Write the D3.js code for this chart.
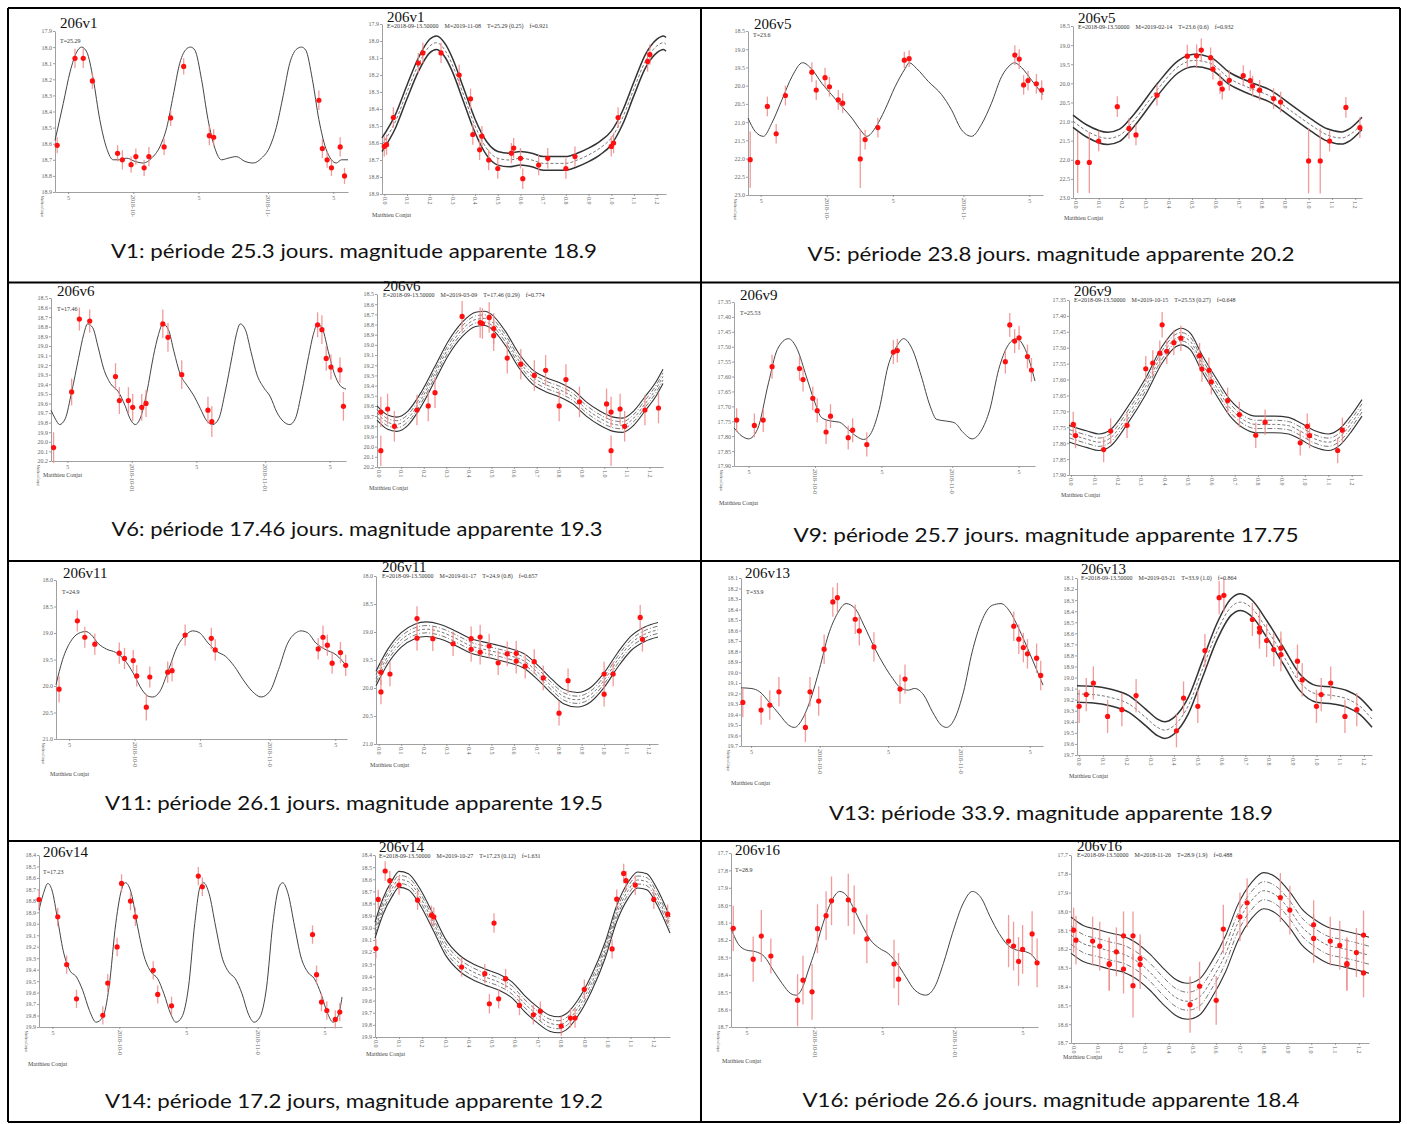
<!DOCTYPE html>
<html>
<head>
<meta charset="utf-8">
<script src="https://cdn.jsdelivr.net/npm/d3@7"></script>
<style>
  body { margin: 0; background: #fff; }
  svg text { white-space: pre; }
</style>
</head>
<body>
<script>
// ---------------------------------------------------------------------------
// Data: light curves of 8 variable stars (field 206)
// time curves: [day since 2018-10-01, magnitude]; points: [x, mag, error]
// phase curves: [phase, magnitude]; bands: magnitude offsets of the fit lines
// ---------------------------------------------------------------------------

const stars = ['206v1', '206v5', '206v6', '206v9', '206v11', '206v13', '206v14', '206v16'];
const periodLabels = ['T=25.29', 'T=23.6', 'T=17.46', 'T=25.53', 'T=24.9', 'T=33.9', 'T=17.23', 'T=28.9'];
const headers = [
  'E=2018-09-13.50000    M=2019-11-08    T=25.29 (0.25)    f=0.921',
  'E=2018-09-13.50000    M=2019-02-14    T=23.6 (0.6)    f=0.932',
  'E=2018-09-13.50000    M=2019-03-09    T=17.46 (0.29)    f=0.774',
  'E=2018-09-13.50000    M=2019-10-15    T=25.53 (0.27)    f=0.648',
  'E=2018-09-13.50000    M=2019-01-17    T=24.9 (0.8)    f=0.657',
  'E=2018-09-13.50000    M=2019-03-21    T=33.9 (1.0)    f=0.864',
  'E=2018-09-13.50000    M=2019-10-27    T=17.23 (0.12)    f=1.631',
  'E=2018-09-13.50000    M=2018-11-26    T=28.9 (1.9)    f=0.488'
];
const captions = [
  'V1: période 25.3 jours. magnitude apparente 18.9',
  'V5: période 23.8 jours. magnitude apparente 20.2',
  'V6: période 17.46 jours. magnitude apparente 19.3',
  'V9: période 25.7 jours. magnitude apparente 17.75',
  'V11: période 26.1 jours. magnitude apparente 19.5',
  'V13: période 33.9. magnitude apparente 18.9',
  'V14: période 17.2 jours, magnitude apparente 19.2',
  'V16: période 26.6 jours. magnitude apparente 18.4'
];
const credit = 'Matthieu Conjat';

// y axis: [top magnitude, bottom magnitude, step, decimals]
const magTicks = [
  [17.9, 18.9, 0.1, 1], [18.5, 23.0, 0.5, 1], [18.5, 20.2, 0.1, 1], [17.35, 17.90, 0.05, 2],
  [18.0, 21.0, 0.5, 1], [18.1, 19.7, 0.1, 1], [18.4, 19.9, 0.1, 1], [17.7, 18.7, 0.1, 1]
];
const dateTickDays = [-15, 0, 15, 31, 46];
const dateLabels = [
  ['5', '2018-10-', '5', '2018-11-', '5'], ['5', '2018-10-', '5', '2018-11-', '5'],
  ['5', '2018-10-01', '5', '2018-11-01', '5'], ['5', '2018-10-0', '5', '2018-11-0', '5'],
  ['5', '2018-10-0', '5', '2018-11-0', '5'], ['5', '2018-10-0', '5', '2018-11-0', '5'],
  ['5', '2018-10-0', '5', '2018-11-0', '5'], ['5', '2018-10-01', '5', '2018-11-01', '5']
];
const phaseTicks = [0, 0.1, 0.2, 0.3, 0.4, 0.5, 0.6, 0.7, 0.8, 0.9, 1.0, 1.1, 1.2];
const timeDomains = [[-18.0, 49.4], [-17.9, 49.1], [-18.8, 49.8], [-18.3, 49.7],
                     [-18.0, 48.7], [-17.2, 48.9], [-18.0, 49.9], [-18.4, 49.4]];
const phaseDomains = [[-0.01, 1.241], [-0.01, 1.229], [-0.007, 1.26], [-0.008, 1.244],
                      [-0.012, 1.239], [-0.009, 1.234], [-0.004, 1.27], [-0.011, 1.243]];

// --- V1 ---
const v1TimeCurve = [[-18.0,18.58],[-16.1,18.35],[-14.5,18.15],[-13.0,18.03],[-11.9,18.00],[-10.7,18.03],[-9.2,18.20],[-7.7,18.45],[-6.1,18.63],[-4.6,18.70],[-3.1,18.70],[-1.5,18.69],[0.4,18.71],[2.3,18.72],[4.2,18.69],[6.1,18.62],[7.7,18.50],[9.2,18.30],[10.7,18.10],[12.3,18.01],[13.2,18.00],[14.2,18.02],[15.7,18.20],[17.2,18.45],[18.8,18.63],[20.3,18.70],[21.8,18.69],[23.7,18.68],[25.7,18.71],[27.6,18.72],[29.5,18.69],[31.4,18.62],[32.9,18.50],[34.5,18.30],[36.0,18.10],[37.7,18.01],[38.7,18.00],[39.7,18.02],[41.2,18.20],[42.7,18.45],[44.3,18.63],[45.6,18.70],[46.7,18.72],[47.9,18.70],[49.4,18.70]];
const v1TimePts = [[-17.5,18.61,0.05],[-13.4,18.07,0.06],[-11.5,18.07,0.06],[-9.4,18.21,0.05],[-3.6,18.66,0.05],[-2.5,18.70,0.06],[-0.5,18.73,0.05],[0.6,18.68,0.05],[2.5,18.75,0.05],[3.6,18.68,0.06],[7.1,18.62,0.05],[8.6,18.44,0.05],[11.6,18.12,0.05],[17.5,18.55,0.06],[18.5,18.56,0.05],[42.7,18.33,0.06],[43.5,18.63,0.06],[44.6,18.70,0.05],[45.6,18.75,0.05],[47.6,18.62,0.06],[48.6,18.80,0.05]];
const v1PhaseCurve = [[-0.01,18.61],[0.05,18.47],[0.1,18.30],[0.15,18.14],[0.2,18.03],[0.23,18.01],[0.27,18.06],[0.3,18.14],[0.35,18.32],[0.4,18.50],[0.45,18.63],[0.5,18.69],[0.55,18.70],[0.6,18.69],[0.65,18.70],[0.7,18.72],[0.8,18.72],[0.85,18.70],[0.9,18.67],[0.95,18.63],[1.0,18.57],[1.05,18.45],[1.1,18.28],[1.15,18.12],[1.2,18.03],[1.23,18.01],[1.241,18.02]];
const v1PhasePts = [[0.0,18.62,0.06],[0.01,18.61,0.06],[0.04,18.45,0.06],[0.15,18.13,0.06],[0.17,18.07,0.06],[0.25,18.07,0.06],[0.33,18.20,0.06],[0.38,18.34,0.06],[0.39,18.55,0.06],[0.42,18.64,0.06],[0.43,18.56,0.06],[0.46,18.70,0.06],[0.50,18.75,0.06],[0.56,18.66,0.06],[0.57,18.63,0.06],[0.60,18.69,0.06],[0.61,18.81,0.06],[0.68,18.73,0.06],[0.72,18.69,0.06],[0.80,18.75,0.06],[0.84,18.68,0.06],[1.00,18.62,0.06],[1.01,18.60,0.06],[1.03,18.45,0.06],[1.16,18.12,0.06],[1.17,18.08,0.06]];
const v1Band = [-0.04, 0, 0.04];

// --- V5 ---
const v5TimeCurve = [[-17.9,20.89],[-16.3,21.25],[-14.4,21.39],[-12.5,21.03],[-10.2,20.39],[-7.9,19.75],[-5.5,19.37],[-3.4,19.55],[-1.1,19.94],[1.1,20.25],[3.4,20.57],[5.7,20.89],[7.6,21.21],[9.1,21.39],[11.0,21.16],[13.2,20.66],[15.5,20.03],[17.8,19.53],[18.7,19.37],[20.4,19.53],[23.1,19.89],[26.1,20.25],[28.3,20.66],[30.6,21.21],[32.9,21.39],[35.1,21.07],[37.4,20.48],[39.7,19.75],[41.6,19.44],[42.6,19.37],[44.2,19.50],[46.5,19.85],[49.1,20.25]];
const v5TimePts = [[-17.4,22.03,0.77],[-13.5,20.57,0.27],[-11.5,21.32,0.27],[-9.4,20.27,0.27],[-3.4,19.63,0.27],[-2.4,20.12,0.27],[-0.4,19.78,0.27],[0.6,20.03,0.27],[2.6,20.39,0.27],[3.6,20.48,0.27],[7.6,22.01,0.8],[8.7,21.48,0.27],[11.6,21.15,0.27],[17.6,19.30,0.23],[18.7,19.26,0.23],[42.7,19.16,0.27],[43.7,19.27,0.27],[44.7,19.98,0.27],[45.7,19.86,0.27],[47.6,19.95,0.27],[48.8,20.12,0.27]];
const v5PhaseCurve = [[-0.01,20.99],[0.05,21.25],[0.14,21.44],[0.19,21.36],[0.25,20.98],[0.35,20.18],[0.44,19.57],[0.51,19.40],[0.58,19.48],[0.66,19.87],[0.75,20.13],[0.84,20.35],[0.92,20.70],[1.01,21.09],[1.08,21.35],[1.14,21.43],[1.18,21.33],[1.229,21.05]];
const v5PhasePts = [[0.01,22.07,0.8],[0.06,22.07,0.8],[0.10,21.51,0.27],[0.18,20.61,0.27],[0.23,21.18,0.27],[0.26,21.35,0.27],[0.35,20.31,0.27],[0.48,19.29,0.3],[0.52,19.28,0.3],[0.54,19.13,0.3],[0.58,19.33,0.27],[0.59,19.63,0.27],[0.62,20.0,0.27],[0.63,20.15,0.27],[0.66,19.92,0.27],[0.72,19.80,0.27],[0.75,19.93,0.27],[0.76,20.07,0.27],[0.79,20.18,0.27],[0.85,20.40,0.27],[0.88,20.49,0.27],[1.00,22.03,0.85],[1.05,22.03,0.85],[1.09,21.51,0.27],[1.16,20.63,0.27],[1.22,21.16,0.27]];
const v5Band = [-0.16, 0, 0.16];

// --- V6 ---
const v6TimeCurve = [[-18.8,19.67],[-17.8,19.76],[-16.8,19.82],[-15.5,19.76],[-14.0,19.48],[-12.4,19.13],[-11.2,18.88],[-10.3,18.77],[-9.1,18.81],[-7.8,19.02],[-6.6,19.23],[-5.0,19.39],[-3.1,19.48],[-1.6,19.62],[-0.4,19.76],[0.8,19.82],[1.9,19.76],[3.5,19.48],[5.0,19.11],[6.2,18.88],[7.2,18.77],[8.5,18.83],[9.8,19.06],[11.2,19.29],[12.8,19.41],[14.3,19.51],[15.9,19.65],[17.4,19.78],[18.8,19.82],[20.2,19.76],[21.7,19.48],[23.3,19.11],[24.3,18.88],[25.2,18.77],[26.4,18.83],[27.7,19.06],[29.1,19.30],[30.6,19.43],[32.2,19.53],[33.7,19.69],[35.3,19.79],[36.7,19.82],[38.0,19.76],[39.5,19.48],[41.1,19.11],[42.2,18.88],[43.2,18.77],[44.4,18.83],[45.7,19.06],[47.1,19.29],[48.4,19.41],[49.8,19.45]];
const v6TimePts = [[-18.2,20.06,0.16],[-14.0,19.48,0.14],[-12.2,18.72,0.12],[-9.8,18.74,0.12],[-3.8,19.32,0.14],[-2.9,19.57,0.14],[-0.8,19.57,0.14],[0.2,19.64,0.14],[2.3,19.64,0.14],[3.3,19.60,0.14],[7.2,18.77,0.15],[8.4,18.91,0.15],[11.6,19.30,0.15],[17.7,19.67,0.14],[18.6,19.79,0.16],[43.2,18.78,0.13],[44.2,18.83,0.15],[45.2,19.13,0.13],[46.3,19.22,0.13],[48.4,19.25,0.13],[49.2,19.63,0.15]];
const v6PhaseCurve = [[-0.007,19.67],[0.04,19.76],[0.08,19.78],[0.13,19.72],[0.19,19.53],[0.25,19.28],[0.31,19.03],[0.37,18.85],[0.43,18.75],[0.47,18.74],[0.50,18.77],[0.56,18.93],[0.62,19.15],[0.68,19.31],[0.74,19.39],[0.80,19.44],[0.86,19.51],[0.92,19.63],[0.98,19.72],[1.04,19.78],[1.08,19.79],[1.13,19.72],[1.18,19.58],[1.23,19.43],[1.26,19.31]];
const v6PhasePts = [[0.01,19.66,0.15],[0.01,20.04,0.15],[0.04,19.63,0.15],[0.07,19.80,0.15],[0.17,19.64,0.15],[0.22,19.60,0.15],[0.25,19.47,0.15],[0.37,18.72,0.15],[0.45,18.78,0.15],[0.46,18.79,0.15],[0.49,18.73,0.15],[0.51,18.91,0.15],[0.51,18.84,0.15],[0.57,19.13,0.15],[0.63,19.19,0.15],[0.69,19.30,0.15],[0.74,19.25,0.15],[0.80,19.60,0.15],[0.83,19.34,0.15],[0.89,19.56,0.15],[1.01,19.58,0.15],[1.03,19.66,0.15],[1.03,20.04,0.15],[1.07,19.63,0.15],[1.09,19.80,0.15],[1.18,19.64,0.15],[1.24,19.62,0.15]];
const v6Band = [-0.07, -0.035, 0, 0.035, 0.07];

// --- V9 ---
const v9TimeCurve = [[-18.3,17.772],[-16.5,17.800],[-15.0,17.809],[-13.0,17.777],[-10.5,17.621],[-8.5,17.509],[-6.0,17.473],[-4.0,17.509],[-2.0,17.598],[0,17.688],[1.5,17.738],[3.5,17.749],[5.5,17.753],[7.5,17.777],[9.5,17.802],[11.0,17.811],[12.5,17.794],[14.5,17.710],[16.5,17.565],[18.5,17.498],[20.0,17.473],[22.0,17.509],[24.0,17.598],[26.0,17.699],[27.5,17.744],[29.5,17.749],[31.5,17.755],[33.5,17.788],[35.5,17.809],[37.5,17.783],[39.5,17.710],[41.5,17.576],[43.5,17.498],[45.5,17.473],[47.5,17.509],[49.7,17.615]];
const v9TimePts = [[-17.7,17.746,0.04],[-13.7,17.764,0.04],[-11.7,17.746,0.04],[-9.7,17.567,0.04],[-3.5,17.573,0.04],[-2.7,17.610,0.04],[-0.5,17.673,0.04],[0.5,17.714,0.04],[2.5,17.786,0.04],[3.5,17.733,0.04],[7.5,17.805,0.04],[8.5,17.780,0.04],[11.7,17.828,0.04],[17.7,17.518,0.04],[18.6,17.513,0.04],[43.0,17.550,0.04],[44.0,17.427,0.04],[45.1,17.481,0.04],[46.1,17.470,0.04],[48.0,17.533,0.04],[48.9,17.578,0.04]];
const v9PhaseCurve = [[-0.008,17.770],[0.07,17.788],[0.12,17.797],[0.17,17.783],[0.24,17.715],[0.32,17.621],[0.39,17.522],[0.45,17.470],[0.47,17.465],[0.51,17.480],[0.56,17.548],[0.62,17.621],[0.68,17.689],[0.74,17.728],[0.79,17.741],[0.87,17.741],[0.93,17.745],[0.98,17.762],[1.04,17.786],[1.10,17.797],[1.15,17.780],[1.20,17.736],[1.244,17.689]];
const v9PhasePts = [[0.01,17.741,0.04],[0.02,17.776,0.04],[0.14,17.820,0.04],[0.17,17.762,0.04],[0.24,17.744,0.04],[0.32,17.566,0.04],[0.35,17.548,0.04],[0.38,17.517,0.04],[0.39,17.428,0.04],[0.41,17.511,0.04],[0.44,17.484,0.04],[0.47,17.470,0.04],[0.55,17.525,0.04],[0.56,17.567,0.04],[0.59,17.571,0.04],[0.60,17.607,0.04],[0.67,17.666,0.04],[0.72,17.710,0.04],[0.79,17.775,0.04],[0.83,17.734,0.04],[0.98,17.799,0.04],[1.01,17.747,0.04],[1.02,17.776,0.04],[1.14,17.823,0.04],[1.16,17.759,0.04]];
const v9Band = [-0.026, -0.013, 0, 0.013, 0.026];

// --- V11 ---
const v11TimeCurve = [[-18.0,19.976],[-16.5,19.506],[-14.4,19.129],[-12.4,18.991],[-11.2,18.972],[-9.9,19.035],[-8.4,19.192],[-6.4,19.305],[-4.3,19.368],[-2.3,19.506],[-0.3,19.757],[1.7,20.070],[3.2,20.196],[4.2,20.208],[5.8,20.102],[7.8,19.694],[9.8,19.255],[11.8,19.035],[13.3,18.960],[14.8,18.991],[16.9,19.192],[18.9,19.349],[20.9,19.443],[22.9,19.631],[24.9,19.882],[27.0,20.102],[29.0,20.208],[31.0,20.102],[33.0,19.694],[35.1,19.192],[37.1,18.991],[38.1,18.960],[39.6,18.991],[41.6,19.192],[43.6,19.305],[46.2,19.412],[48.7,19.631]];
const v11TimePts = [[-17.3,20.06,0.25],[-13.1,18.77,0.2],[-11.4,19.08,0.2],[-9.1,19.21,0.2],[-3.5,19.38,0.2],[-2.3,19.48,0.2],[-0.3,19.52,0.2],[0.5,19.81,0.2],[2.7,20.40,0.25],[3.5,19.83,0.2],[7.6,19.74,0.2],[8.6,19.71,0.2],[11.6,19.04,0.2],[17.6,19.10,0.2],[18.5,19.32,0.2],[42.1,19.30,0.2],[43.2,19.08,0.22],[44.2,19.23,0.2],[45.3,19.57,0.2],[47.2,19.37,0.2],[48.4,19.61,0.2]];
const v11PhaseCurve = [[-0.012,19.83],[0.04,19.44],[0.10,19.14],[0.16,18.99],[0.21,18.95],[0.27,18.99],[0.34,19.11],[0.41,19.25],[0.49,19.33],[0.57,19.41],[0.65,19.53],[0.71,19.74],[0.77,19.98],[0.82,20.15],[0.88,20.21],[0.94,20.12],[1.00,19.86],[1.06,19.50],[1.12,19.20],[1.18,19.04],[1.239,18.96]];
const v11PhasePts = [[0.01,19.72,0.22],[0.01,20.07,0.22],[0.05,19.75,0.22],[0.17,18.76,0.22],[0.17,19.11,0.22],[0.24,19.12,0.22],[0.33,19.21,0.22],[0.41,19.12,0.22],[0.41,19.31,0.22],[0.45,19.09,0.22],[0.45,19.36,0.22],[0.49,19.25,0.22],[0.53,19.55,0.22],[0.57,19.39,0.22],[0.61,19.38,0.22],[0.61,19.52,0.22],[0.65,19.61,0.22],[0.69,19.53,0.22],[0.73,19.82,0.22],[0.80,20.45,0.22],[0.84,19.87,0.22],[1.00,19.75,0.22],[1.00,20.11,0.22],[1.04,19.75,0.22],[1.16,18.74,0.22],[1.17,19.13,0.22]];
const v11Band = [-0.13, -0.065, 0, 0.065, 0.13];

// --- V13 ---
const v13TimeCurve = [[-17.2,19.146],[-15.0,19.152],[-13.1,19.184],[-11.1,19.279],[-8.7,19.405],[-6.8,19.500],[-5.5,19.523],[-3.9,19.453],[-1.9,19.247],[0,18.962],[1.9,18.645],[3.9,18.439],[5.8,18.344],[7.8,18.392],[9.7,18.550],[12.1,18.772],[14.1,18.930],[16.0,19.057],[17.7,19.146],[19.4,19.168],[20.8,19.152],[22.8,19.215],[24.7,19.374],[26.6,19.500],[27.8,19.523],[29.6,19.437],[31.5,19.184],[33.4,18.803],[35.4,18.518],[37.8,18.360],[39.7,18.344],[41.7,18.423],[43.6,18.582],[46.0,18.819],[48.9,19.120]];
const v13TimePts = [[-16.8,19.285,0.14],[-12.8,19.358,0.14],[-10.9,19.310,0.14],[-8.9,19.184,0.14],[-3.1,19.523,0.14],[-2.1,19.184,0.14],[-0.2,19.272,0.14],[1.0,18.778,0.14],[2.9,18.328,0.14],[3.9,18.287,0.14],[7.8,18.493,0.14],[8.7,18.604,0.14],[11.9,18.756,0.14],[17.6,19.158,0.14],[18.7,19.063,0.14],[42.5,18.559,0.14],[43.6,18.683,0.14],[44.6,18.762,0.14],[45.5,18.822,0.14],[47.5,18.864,0.14],[48.4,19.028,0.14]];
const v13PhaseCurve = [[-0.009,19.148],[0.06,19.154],[0.13,19.179],[0.21,19.239],[0.28,19.360],[0.33,19.450],[0.36,19.475],[0.40,19.435],[0.46,19.254],[0.52,18.922],[0.58,18.589],[0.64,18.363],[0.68,18.318],[0.73,18.378],[0.79,18.559],[0.86,18.801],[0.93,19.043],[1.00,19.148],[1.07,19.163],[1.13,19.194],[1.18,19.254],[1.234,19.375]];
const v13PhasePts = [[0.0,19.260,0.15],[0.03,19.154,0.15],[0.06,19.049,0.15],[0.12,19.351,0.15],[0.18,19.290,0.15],[0.24,19.163,0.15],[0.41,19.481,0.15],[0.44,19.185,0.15],[0.50,19.260,0.15],[0.53,18.756,0.15],[0.59,18.278,0.15],[0.61,18.257,0.15],[0.73,18.475,0.15],[0.76,18.550,0.15],[0.76,18.589,0.15],[0.79,18.665,0.15],[0.82,18.747,0.15],[0.85,18.734,0.15],[0.85,18.792,0.15],[0.92,18.852,0.15],[0.94,19.021,0.15],[1.00,19.260,0.15],[1.02,19.154,0.15],[1.06,19.049,0.15],[1.12,19.351,0.15],[1.17,19.290,0.15]];
const v13Band = [-0.075, 0, 0.075];

// --- V14 ---
const v14TimeCurve = [[-18.0,18.881],[-17.0,18.735],[-16.0,18.648],[-15.1,18.706],[-13.8,18.969],[-12.6,19.231],[-11.1,19.406],[-9.6,19.464],[-8.2,19.581],[-6.7,19.756],[-5.2,19.858],[-3.7,19.814],[-2.3,19.552],[-0.8,18.998],[0.7,18.677],[1.4,18.642],[2.7,18.735],[4.1,19.027],[5.6,19.289],[7.1,19.420],[8.6,19.479],[10.0,19.610],[11.5,19.785],[12.7,19.858],[14.0,19.814],[15.5,19.552],[16.9,18.998],[18.1,18.677],[18.9,18.642],[20.1,18.735],[21.6,19.027],[23.0,19.289],[24.5,19.420],[26.0,19.479],[27.5,19.610],[28.9,19.785],[30.2,19.858],[31.5,19.814],[33.0,19.552],[34.4,18.998],[35.8,18.677],[36.6,18.642],[37.8,18.735],[39.3,19.027],[40.7,19.289],[42.2,19.420],[43.7,19.479],[45.2,19.610],[46.7,19.785],[47.9,19.858],[49.2,19.785],[49.9,19.639]];
const v14TimePts = [[-18.0,18.788,0.08],[-13.8,18.939,0.08],[-11.8,19.356,0.08],[-9.6,19.654,0.08],[-3.7,19.799,0.08],[-2.6,19.517,0.08],[-0.5,19.202,0.08],[0.5,18.648,0.08],[2.5,18.802,0.08],[3.6,18.939,0.08],[7.6,19.406,0.08],[8.6,19.616,0.08],[11.7,19.715,0.08],[17.7,18.584,0.08],[18.6,18.677,0.08],[43.3,19.094,0.08],[44.2,19.444,0.08],[45.3,19.683,0.08],[46.5,19.756,0.08],[48.4,19.834,0.08],[49.4,19.770,0.08]];
const v14PhaseCurve = [[-0.004,19.02],[0.03,18.827],[0.07,18.675],[0.10,18.601],[0.14,18.620],[0.19,18.744],[0.25,18.965],[0.30,19.157],[0.36,19.290],[0.42,19.364],[0.47,19.405],[0.53,19.447],[0.59,19.516],[0.64,19.620],[0.70,19.722],[0.75,19.786],[0.79,19.799],[0.82,19.777],[0.87,19.667],[0.93,19.461],[0.99,19.185],[1.04,18.882],[1.09,18.689],[1.13,18.606],[1.17,18.620],[1.21,18.730],[1.27,18.978]];
const v14PhasePts = [[0.0,19.171,0.08],[0.01,18.766,0.08],[0.04,18.532,0.08],[0.06,18.612,0.08],[0.10,18.648,0.08],[0.18,18.772,0.08],[0.24,18.896,0.08],[0.25,18.910,0.08],[0.37,19.323,0.08],[0.47,19.378,0.08],[0.49,19.626,0.08],[0.51,18.961,0.08],[0.53,19.585,0.08],[0.56,19.419,0.08],[0.62,19.640,0.08],[0.68,19.717,0.08],[0.71,19.687,0.08],[0.80,19.810,0.08],[0.84,19.744,0.08],[0.86,19.744,0.08],[0.90,19.507,0.08],[1.02,19.174,0.08],[1.04,18.764,0.08],[1.07,18.552,0.08],[1.08,18.612,0.08],[1.12,18.648,0.08],[1.20,18.766,0.08],[1.26,18.888,0.08]];
const v14Band = [-0.066, -0.033, 0, 0.033, 0.066];

// --- V16 ---
const v16TimeCurve = [[-18.4,18.133],[-16.9,18.219],[-15.0,18.258],[-13.0,18.267],[-11.0,18.296],[-9.1,18.373],[-7.1,18.450],[-5.2,18.508],[-4.0,18.517],[-2.7,18.479],[-1.3,18.373],[0.2,18.258],[1.7,18.123],[3.6,17.988],[5.6,17.921],[7.0,17.940],[8.5,18.008],[10.5,18.113],[12.4,18.200],[14.4,18.248],[16.3,18.277],[18.3,18.335],[20.2,18.412],[22.2,18.488],[24.6,18.517],[26.6,18.469],[28.5,18.335],[30.5,18.162],[32.9,17.988],[34.9,17.921],[36.9,17.960],[38.8,18.065],[40.8,18.162],[42.7,18.229],[44.7,18.258],[46.6,18.267],[48.1,18.287],[49.4,18.335]];
const v16TimePts = [[-17.9,18.133,0.13],[-13.5,18.310,0.13],[-11.7,18.177,0.15],[-9.6,18.292,0.1],[-3.7,18.546,0.15],[-2.5,18.431,0.14],[-0.5,18.498,0.16],[0.7,18.135,0.14],[2.6,18.060,0.14],[3.8,17.975,0.14],[7.5,17.969,0.15],[8.8,18.027,0.14],[11.6,18.194,0.14],[17.6,18.338,0.14],[18.6,18.425,0.15],[42.9,18.206,0.15],[44.0,18.235,0.14],[45.1,18.323,0.14],[46.0,18.254,0.14],[48.1,18.165,0.13],[49.2,18.331,0.14]];
const v16PhaseCurve = [[-0.011,18.126],[0.04,18.171],[0.10,18.192],[0.15,18.210],[0.21,18.228],[0.26,18.260],[0.32,18.322],[0.38,18.402],[0.43,18.458],[0.48,18.478],[0.53,18.455],[0.58,18.366],[0.64,18.224],[0.69,18.064],[0.75,17.940],[0.80,17.890],[0.85,17.913],[0.91,17.993],[0.96,18.082],[1.02,18.144],[1.07,18.180],[1.13,18.197],[1.19,18.215],[1.243,18.233]];
const v16PhasePts = [[0.0,18.100,0.12],[0.01,18.153,0.13],[0.08,18.158,0.13],[0.11,18.185,0.13],[0.15,18.277,0.14],[0.15,18.283,0.14],[0.18,18.215,0.13],[0.21,18.130,0.13],[0.21,18.307,0.13],[0.25,18.395,0.17],[0.25,18.130,0.13],[0.28,18.251,0.13],[0.28,18.283,0.13],[0.49,18.496,0.15],[0.53,18.398,0.13],[0.60,18.473,0.13],[0.63,18.094,0.13],[0.70,18.029,0.13],[0.73,17.954,0.13],[0.87,17.926,0.13],[0.91,17.993,0.13],[1.01,18.071,0.13],[1.01,18.144,0.13],[1.08,18.158,0.13],[1.12,18.181,0.13],[1.15,18.277,0.14],[1.15,18.283,0.14],[1.19,18.219,0.13],[1.22,18.126,0.13],[1.22,18.327,0.13]];
const v16Band = [-0.096, -0.048, 0, 0.048, 0.096];

const timeCurves = [v1TimeCurve, v5TimeCurve, v6TimeCurve, v9TimeCurve, v11TimeCurve, v13TimeCurve, v14TimeCurve, v16TimeCurve];
const timePts = [v1TimePts, v5TimePts, v6TimePts, v9TimePts, v11TimePts, v13TimePts, v14TimePts, v16TimePts];
const phaseCurves = [v1PhaseCurve, v5PhaseCurve, v6PhaseCurve, v9PhaseCurve, v11PhaseCurve, v13PhaseCurve, v14PhaseCurve, v16PhaseCurve];
const phasePts = [v1PhasePts, v5PhasePts, v6PhasePts, v9PhasePts, v11PhasePts, v13PhasePts, v14PhasePts, v16PhasePts];
const bands = [v1Band, v5Band, v6Band, v9Band, v11Band, v13Band, v14Band, v16Band];

// ---------------------------------------------------------------------------
// Layout (pixels)
// ---------------------------------------------------------------------------
const W = 1407, H = 1124;
const tableX = [8, 701, 1400];
const tableY = [8, 282.5, 561, 841, 1122];

// [axis x, right x, y of top tick, y of bottom tick]
const leftBoxes = [[55,348,31,192],[748,1043,31,195],[51,346,298,461],[734,1035,302,466],
                   [56,347,580,739],[741,1043,578,746],[39,342,855,1027],[731,1038,853,1027]];
const rightBoxes = [[382,666,24,194],[1073,1362,26,198],[377,663,294,467],[1069,1362,300,475],
                    [376,658,576,744],[1077,1372,578,755],[375,670,855,1037],[1071,1369,855,1043]];
const leftTitlePos = [[60,28],[754,29],[57,296],[740,300],[63,578],[745,578],[43,857],[735,855]];
const leftTPos = [[60,43],[753,37],[57,311],[740,315],[62,594],[746,594],[43,874],[735,872]];
const rightTitlePos = [[387,22],[1078,23],[383,291],[1074,296],[382,572],[1081,574],[379,852],[1077,851]];
const leftCreditPos = [null, null, [43,477], [719,505], [50,776], [731,785], [28,1066], [722,1063]];
const rightCreditPos = [[372,217],[1064,220],[369,490],[1061,497],[370,767],[1069,778],[366,1056],[1063,1059]];
const captionPos = [[354,258],[1051,261],[357,536],[1046,542],[354,810],[1051,820],[354,1108],[1051,1107]];
const captionWidths = [486,487,491,505,498,444,498,497];

const bandStyles = {
  3: [['solid', 1.5], ['dash', 0.8], ['solid', 1.5]],
  5: [['solid', 1.1], ['dashdot', 0.8], ['dash', 0.8], ['dashdot', 0.8], ['solid', 1.1]]
};
const dashes = { solid: null, dash: '3,2', dashdot: '5,2,1,2', longdash: '6,3' };

const SERIF = '"Liberation Serif","DejaVu Serif",serif';

// ---------------------------------------------------------------------------
// Drawing
// ---------------------------------------------------------------------------
const svg = d3.select('body').append('svg').attr('width', W).attr('height', H);
svg.append('rect').attr('width', W).attr('height', H).attr('fill', '#fff');

function styleAxis(sel) {
  sel.selectAll('text')
    .attr('fill', '#666')
    .style('font-size', '6px')
    .style('font-family', SERIF);
  sel.selectAll('.domain,.tick line').attr('stroke', '#888').attr('stroke-width', 0.8);
}

function magAxis(g, y, i, x0) {
  const [mTop, mBot, step, dec] = magTicks[i];
  const ticks = d3.range(mTop, mBot + step / 2, step);
  const ax = g.append('g').attr('transform', `translate(${x0},0)`)
    .call(d3.axisLeft(y).tickValues(ticks).tickSize(2).tickSizeOuter(0)
      .tickFormat(d3.format(`.${dec}f`)));
  ax.selectAll('text').attr('x', -3);
  styleAxis(ax);
}

function drawErrPoints(g, pts, x, y) {
  g.append('g').selectAll('line').data(pts).join('line')
    .attr('x1', d => x(d[0])).attr('x2', d => x(d[0]))
    .attr('y1', d => y(d[1] - d[2])).attr('y2', d => y(d[1] + d[2]))
    .attr('stroke', '#f08a8a').attr('stroke-width', 1.3).attr('opacity', 0.85);
  g.append('g').selectAll('circle').data(pts).join('circle')
    .attr('cx', d => x(d[0])).attr('cy', d => y(d[1])).attr('r', 2.6)
    .attr('fill', '#ff1010');
}

function creditText(g, pos) {
  if (!pos) return;
  g.append('text').attr('x', pos[0]).attr('y', pos[1])
    .attr('font-family', SERIF).attr('font-size', 6).attr('fill', '#444')
    .text(credit);
}

function drawTimePanel(i) {
  const [x0, x1, yT, yB] = leftBoxes[i];
  const x = d3.scaleLinear().domain(timeDomains[i]).range([x0, x1]);
  const y = d3.scaleLinear().domain([magTicks[i][0], magTicks[i][1]]).range([yT, yB]);
  const g = svg.append('g');

  magAxis(g, y, i, x0);
  const xAx = g.append('g').attr('transform', `translate(0,${yB})`)
    .call(d3.axisBottom(x).tickValues(dateTickDays).tickSize(2).tickSizeOuter(0)
      .tickFormat((d, j) => dateLabels[i][j]));
  styleAxis(xAx);
  xAx.selectAll('text').each(function (d, j) {
    const lbl = dateLabels[i][j];
    if (lbl.length > 2) {
      d3.select(this).attr('transform', 'rotate(90)').attr('x', 3).attr('y', -2)
        .style('text-anchor', 'start');
    } else {
      d3.select(this).attr('y', 4);
    }
  });

  const line = d3.line().x(d => x(d[0])).y(d => y(d[1])).curve(d3.curveMonotoneX);
  g.append('path').datum(timeCurves[i]).attr('d', line)
    .attr('fill', 'none').attr('stroke', '#444').attr('stroke-width', 1);

  drawErrPoints(g, timePts[i], x, y);

  g.append('text').attr('x', leftTitlePos[i][0]).attr('y', leftTitlePos[i][1])
    .attr('font-family', SERIF).attr('font-size', 15).attr('fill', '#111').text(stars[i]);
  g.append('text').attr('x', leftTPos[i][0]).attr('y', leftTPos[i][1])
    .attr('font-family', SERIF).attr('font-size', 6).attr('fill', '#333').text(periodLabels[i]);

  // tiny rotated signature below the axis corner
  g.append('text').attr('transform', `translate(${x0 - 14},${yB + 4}) rotate(90)`)
    .attr('font-family', SERIF).attr('font-size', 3.2).attr('fill', '#555').text(credit);
  creditText(g, leftCreditPos[i]);
}

function drawPhasePanel(i) {
  const [x0, x1, yT, yB] = rightBoxes[i];
  const x = d3.scaleLinear().domain(phaseDomains[i]).range([x0, x1]);
  const y = d3.scaleLinear().domain([magTicks[i][0], magTicks[i][1]]).range([yT, yB]);
  const g = svg.append('g');

  magAxis(g, y, i, x0);
  const xAx = g.append('g').attr('transform', `translate(0,${yB})`)
    .call(d3.axisBottom(x).tickValues(phaseTicks).tickSize(2).tickSizeOuter(0)
      .tickFormat(d3.format('.1f')));
  styleAxis(xAx);
  xAx.selectAll('text').attr('transform', 'rotate(90)').attr('x', 3).attr('y', -2)
    .style('text-anchor', 'start');

  const band = bands[i];
  const styles = bandStyles[band.length];
  band.forEach((off, k) => {
    const [kind, sw] = styles[k];
    const line = d3.line().x(d => x(d[0])).y(d => y(d[1] + off)).curve(d3.curveMonotoneX);
    g.append('path').datum(phaseCurves[i]).attr('d', line)
      .attr('fill', 'none')
      .attr('stroke', kind === 'solid' ? '#333' : '#555')
      .attr('stroke-width', sw)
      .attr('stroke-dasharray', dashes[kind]);
  });

  drawErrPoints(g, phasePts[i], x, y);

  g.append('text').attr('x', rightTitlePos[i][0]).attr('y', rightTitlePos[i][1])
    .attr('font-family', SERIF).attr('font-size', 15).attr('fill', '#111').text(stars[i]);
  g.append('text').attr('x', rightTitlePos[i][0]).attr('y', rightTitlePos[i][1] + 6)
    .attr('font-family', SERIF).attr('font-size', 6).attr('fill', '#333').text(headers[i]);
  creditText(g, rightCreditPos[i]);
}

function drawCaption(i) {
  svg.append('text')
    .attr('x', captionPos[i][0]).attr('y', captionPos[i][1])
    .attr('text-anchor', 'middle')
    .attr('font-family', 'Lato, "Open Sans", sans-serif')
    .attr('font-size', 20).attr('fill', '#111')
    .attr('textLength', captionWidths[i]).attr('lengthAdjust', 'spacingAndGlyphs')
    .text(captions[i]);
}

stars.forEach((s, i) => {
  drawTimePanel(i);
  drawPhasePanel(i);
  drawCaption(i);
});

// table grid
const grid = svg.append('g').attr('stroke', '#000').attr('stroke-width', 2);
grid.selectAll('line.v').data(tableX).join('line')
  .attr('x1', d => d).attr('x2', d => d).attr('y1', tableY[0]).attr('y2', tableY[tableY.length - 1]);
grid.selectAll('line.h').data(tableY).join('line')
  .attr('y1', d => d).attr('y2', d => d).attr('x1', tableX[0]).attr('x2', tableX[tableX.length - 1]);
</script>
</body>
</html>
